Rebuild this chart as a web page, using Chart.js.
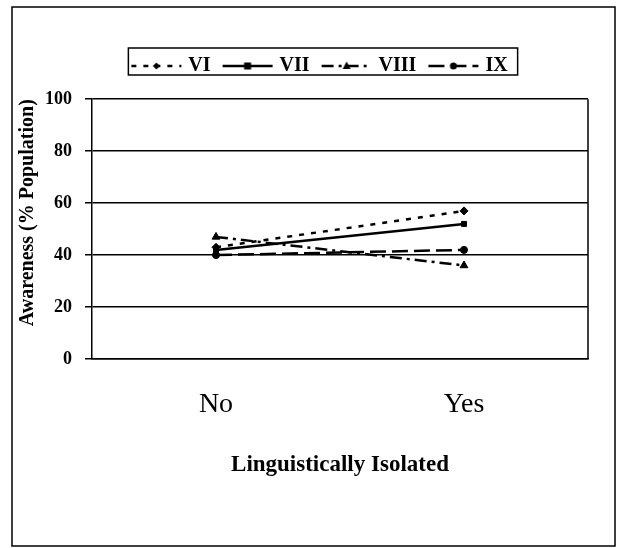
<!DOCTYPE html>
<html>
<head>
<meta charset="utf-8">
<script src="https://cdn.jsdelivr.net/npm/chart.js@4.4.1/dist/chart.umd.min.js"></script>
<style>
  html, body { margin: 0; padding: 0; background: #fff; }
</style>
</head>
<body>
<canvas id="awarenessChart" width="619" height="548"></canvas>
<script>
const categories = ['No', 'Yes'];
const seriesNames = ['VI', 'VII', 'VIII', 'IX'];
const seriesVI = [43, 57];
const seriesVII = [42, 52];
const seriesVIII = [47, 36];
const seriesIX = [40, 42];
const yTicks = [0, 20, 40, 60, 80, 100];

const serif = "'Liberation Serif', 'Times New Roman', serif";

// dash / marker per series
const lineStyles = [
    { dash: [5, 7], point: 'rectRot', radius: 4 },
    { dash: [], point: 'rect', radius: 3.5 },
    { dash: [12, 5, 3, 5], point: 'triangle', radius: 4.5 },
    { dash: [16, 6], point: 'circle', radius: 3.5 },
];

// small canvas used as legend sample: line with marker in the middle
function makeSample(style) {
    const c = document.createElement('canvas');
    c.width = 52;
    c.height = 14;
    const g = c.getContext('2d');
    g.strokeStyle = '#000';
    g.fillStyle = '#000';
    g.lineWidth = 2.5;
    g.setLineDash(style.dash);
    g.beginPath();
    g.moveTo(1, 7);
    g.lineTo(51, 7);
    g.stroke();
    g.setLineDash([]);
    const cx = 26, cy = 7, r = 3.5;
    g.beginPath();
    if (style.point === 'rect') {
        g.rect(cx - r, cy - r, r * 2, r * 2);
    } else if (style.point === 'rectRot') {
        g.moveTo(cx, cy - r); g.lineTo(cx + r, cy); g.lineTo(cx, cy + r); g.lineTo(cx - r, cy);
    } else if (style.point === 'triangle') {
        g.moveTo(cx, cy - r - 1); g.lineTo(cx + r + 0.5, cy + r - 0.5); g.lineTo(cx - r - 0.5, cy + r - 0.5);
    } else {
        g.arc(cx, cy, r, 0, Math.PI * 2);
    }
    g.closePath();
    g.fill();
    return c;
}
const legendSamples = lineStyles.map(makeSample);

const seriesData = [seriesVI, seriesVII, seriesVIII, seriesIX];
const datasets = seriesNames.map((name, i) => ({
    label: name,
    data: seriesData[i],
    borderColor: '#000',
    backgroundColor: '#000',
    borderWidth: 2.5,
    borderDash: lineStyles[i].dash,
    pointStyle: lineStyles[i].point,
    pointRadius: lineStyles[i].radius,
    pointBackgroundColor: '#000',
    pointBorderColor: '#000',
    pointBorderWidth: 1,
    tension: 0,
    fill: false,
}));

const framePlugin = {
    id: 'frame',
    afterLayout(chart) {
        // legend sits a little right of the chart's centre in the original
        const lg = chart.legend;
        lg.left += 21;
        lg.right += 21;
    },
    afterDraw(chart) {
        const ctx = chart.ctx;
        const a = chart.chartArea;
        ctx.save();
        ctx.strokeStyle = '#000';
        ctx.lineWidth = 1.5;
        ctx.setLineDash([]);
        // right edge of plot area
        ctx.beginPath();
        ctx.moveTo(a.right, a.top);
        ctx.lineTo(a.right, a.bottom);
        ctx.stroke();
        // box round the legend
        const hb = chart.legend.legendHitBoxes;
        if (hb && hb.length) {
            const last = hb[hb.length - 1];
            const l = hb[0].left - 6;
            const r = last.left + last.width + 10;
            const t = hb[0].top - 8;
            const b = hb[0].top + hb[0].height - 1;
            ctx.strokeRect(l, t, r - l, b - t);
        }
        // outer frame
        ctx.strokeRect(12, 7, 603, 539);
        ctx.restore();
    }
};

const ctx = document.getElementById('awarenessChart').getContext('2d');
const awarenessChart = new Chart(ctx, {
    type: 'line',
    data: {
        labels: categories,
        datasets: datasets
    },
    options: {
        responsive: false,
        animation: false,
        layout: {
            padding: { left: 12, right: 31, top: 41, bottom: 59 }
        },
        plugins: {
            legend: {
                position: 'top',
                labels: {
                    usePointStyle: true,
                    pointStyleWidth: 44,
                    padding: 15,
                    color: '#000',
                    font: { family: serif, size: 20, weight: 'bold' },
                    generateLabels(chart) {
                        const items = Chart.defaults.plugins.legend.labels.generateLabels(chart);
                        items.forEach((it, i) => { it.pointStyle = legendSamples[i]; });
                        return items;
                    }
                }
            },
            // empty spacer between legend and plot
            title: {
                display: true,
                text: '',
                weight: 500,
                font: { size: 1 },
                padding: { top: 6, bottom: 6 }
            },
            tooltip: { enabled: false }
        },
        scales: {
            x: {
                offset: true,
                grid: { display: false, drawTicks: false },
                border: { display: true, color: '#000', width: 1.5 },
                ticks: {
                    color: '#000',
                    padding: 29,
                    font: { family: serif, size: 28 }
                },
                title: {
                    display: true,
                    text: 'Linguistically Isolated',
                    color: '#000',
                    font: { family: serif, size: 23, weight: 'bold' },
                    padding: { top: 4, bottom: 10 }
                },
                afterFit(scale) { scale.height = 130; }
            },
            y: {
                min: yTicks[0],
                max: yTicks[yTicks.length - 1],
                grid: { color: '#000', lineWidth: 1.5, drawTicks: true, tickLength: 7 },
                border: { display: true, color: '#000', width: 1.5 },
                ticks: {
                    stepSize: yTicks[1] - yTicks[0],
                    color: '#000',
                    padding: 13,
                    font: { family: serif, size: 18, weight: 'bold' }
                },
                title: {
                    display: true,
                    text: 'Awareness (% Population)',
                    align: 'end',
                    color: '#000',
                    font: { family: serif, size: 20, weight: 'bold' },
                    padding: { top: 4, bottom: 4 }
                },
                afterFit(scale) { scale.width = 80; }
            }
        }
    },
    plugins: [framePlugin]
});
</script>
</body>
</html>
